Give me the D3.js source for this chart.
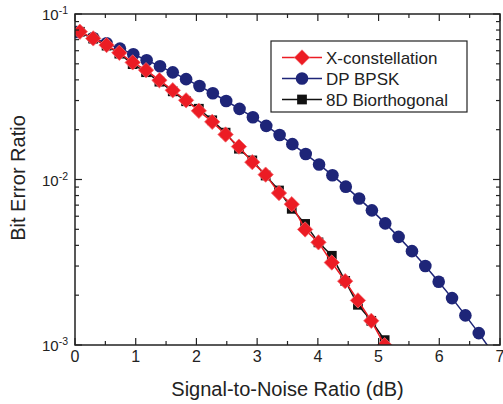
<!DOCTYPE html>
<html>
<head>
<meta charset="utf-8">
<script src="https://cdn.jsdelivr.net/npm/d3@7"></script>
<style>
  html, body { margin: 0; padding: 0; background: #fff; }
  svg { display: block; font-family: Arial, "Liberation Sans", sans-serif; }
</style>
</head>
<body>
<svg id="chart" width="503" height="404"></svg>
<script>
// Bit error ratio versus SNR for three modulation formats
const xConstSnr = [0.08, 0.30, 0.52, 0.73, 0.95, 1.17, 1.39, 1.61, 1.83, 2.04, 2.26, 2.48,
                   2.70, 2.92, 3.14, 3.36, 3.57, 3.79, 4.01, 4.23, 4.45, 4.66, 4.88, 5.10];
const xConstBer = [0.0781, 0.0712, 0.0649, 0.0583, 0.0510, 0.0458, 0.0398, 0.0346, 0.0301, 0.0260,
                   0.0223, 0.0187, 0.0158, 0.01273, 0.01070, 0.00828, 0.00709, 0.00499, 0.00417,
                   0.00315, 0.00243, 0.00186, 0.00140, 0.000997];

const bpskSnr = [0.03, 0.30, 0.52, 0.74, 0.96, 1.18, 1.40, 1.61, 1.83, 2.05, 2.27, 2.49, 2.71, 2.93,
                 3.15, 3.37, 3.58, 3.80, 4.02, 4.24, 4.46, 4.68, 4.89, 5.11, 5.33, 5.55, 5.77, 5.99,
                 6.21, 6.43, 6.65, 6.87];
const bpskBer = [0.0779, 0.0716, 0.0666, 0.0618, 0.0571, 0.0526, 0.0483, 0.0444, 0.0404, 0.0367,
                 0.0332, 0.0298, 0.0267, 0.0238, 0.0211, 0.01856, 0.01635, 0.01425, 0.01233,
                 0.01060, 0.00905, 0.00767, 0.00651, 0.00543, 0.00450, 0.00369, 0.00300, 0.00241,
                 0.00192, 0.00151, 0.00118, 0.000908];

const biorthSnr = xConstSnr;
const biorthBer = [0.0781, 0.0710, 0.0644, 0.0576, 0.0498, 0.0445, 0.0390, 0.0341, 0.0297, 0.02676,
                   0.02279, 0.01919, 0.01535, 0.01304, 0.01057, 0.00858, 0.00665, 0.00539, 0.00417,
                   0.00346, 0.00244, 0.00175, 0.00140, 0.00107];

const seriesNames = ["X-constellation", "DP BPSK", "8D Biorthogonal"];
const xTickValues = [0, 1, 2, 3, 4, 5, 6, 7];
const yTickExponents = [-1, -2, -3];

const RED = "#ec1c24", NAVY = "#1e2578", BLACK = "#111111";

const svg = d3.select("#chart");
const plotLeft = 75, plotRight = 500, plotTop = 14, plotBottom = 345;

const x = d3.scaleLinear().domain([0, 7]).range([plotLeft, plotRight]);
const y = d3.scaleLog().domain([1e-3, 1e-1]).range([plotBottom, plotTop]);

svg.append("defs").append("clipPath").attr("id", "plotClip")
  .append("rect").attr("x", plotLeft).attr("y", plotTop)
  .attr("width", plotRight - plotLeft).attr("height", plotBottom - plotTop);

const plot = svg.append("g").attr("clip-path", "url(#plotClip)");

const line = d3.line().x(d => x(d[0])).y(d => y(d[1]));
const zip = (a, b) => a.map((v, i) => [v, b[i]]);

const bpsk = zip(bpskSnr, bpskBer);
const biorth = zip(biorthSnr, biorthBer);
const xconst = zip(xConstSnr, xConstBer);

const diamond = d3.symbol().type(d3.symbolDiamond2).size(150);
const square = d3.symbol().type(d3.symbolSquare).size(95);

function drawSeries(data, color, drawMarker) {
  plot.append("path").datum(data).attr("d", line)
    .attr("fill", "none").attr("stroke", color).attr("stroke-width", 1.5);
  const g = plot.append("g");
  data.forEach(d => drawMarker(g, x(d[0]), y(d[1])));
}

const circleMarker = (g, cx, cy) => g.append("circle").attr("cx", cx).attr("cy", cy).attr("r", 6.3)
  .attr("fill", NAVY);
const squareMarker = (g, cx, cy) => g.append("path").attr("d", square)
  .attr("transform", `translate(${cx},${cy})`).attr("fill", BLACK);
const diamondMarker = (g, cx, cy) => g.append("path").attr("d", diamond)
  .attr("transform", `translate(${cx},${cy})`).attr("fill", RED)
  .attr("stroke", "#f46a6e").attr("stroke-width", 0.8);

drawSeries(bpsk, NAVY, circleMarker);
drawSeries(biorth, BLACK, squareMarker);
drawSeries(xconst, RED, diamondMarker);

// Frame
const axisColor = "#222";
svg.append("rect").attr("x", plotLeft).attr("y", plotTop)
  .attr("width", plotRight - plotLeft).attr("height", plotBottom - plotTop)
  .attr("fill", "none").attr("stroke", axisColor).attr("stroke-width", 1.5);

// X ticks (inward, bottom and top)
const xMinor = d3.range(0.5, 7, 1);
const ticks = svg.append("g").attr("stroke", axisColor).attr("stroke-width", 1.2);
xTickValues.forEach(v => {
  ticks.append("line").attr("x1", x(v)).attr("x2", x(v)).attr("y1", plotBottom).attr("y2", plotBottom - 7);
  ticks.append("line").attr("x1", x(v)).attr("x2", x(v)).attr("y1", plotTop).attr("y2", plotTop + 7);
});
xMinor.forEach(v => {
  ticks.append("line").attr("x1", x(v)).attr("x2", x(v)).attr("y1", plotBottom).attr("y2", plotBottom - 4);
  ticks.append("line").attr("x1", x(v)).attr("x2", x(v)).attr("y1", plotTop).attr("y2", plotTop + 4);
});

// Y ticks: decades plus 2..9 minors
yTickExponents.forEach(e => {
  const v = Math.pow(10, e);
  ticks.append("line").attr("x1", plotLeft).attr("x2", plotLeft + 7).attr("y1", y(v)).attr("y2", y(v));
  ticks.append("line").attr("x1", plotRight).attr("x2", plotRight - 7).attr("y1", y(v)).attr("y2", y(v));
});
[-3, -2].forEach(e => {
  for (let m = 2; m <= 9; m++) {
    const v = m * Math.pow(10, e);
    ticks.append("line").attr("x1", plotLeft).attr("x2", plotLeft + 4).attr("y1", y(v)).attr("y2", y(v));
    ticks.append("line").attr("x1", plotRight).attr("x2", plotRight - 4).attr("y1", y(v)).attr("y2", y(v));
  }
});

// Tick labels
svg.append("g").selectAll("text").data(xTickValues).join("text")
  .attr("x", d => x(d)).attr("y", 362).attr("text-anchor", "middle")
  .attr("font-size", 16).attr("fill", "#222").text(d => d);

const yl = svg.append("g").selectAll("text").data(yTickExponents).join("text")
  .attr("x", 68).attr("y", d => y(Math.pow(10, d)) + 6).attr("text-anchor", "end")
  .attr("font-size", 15).attr("fill", "#222");
yl.append("tspan").text("10");
yl.append("tspan").attr("dy", -6).attr("font-size", 10.5).text(d => "-" + Math.abs(d));

// Axis titles
svg.append("text").attr("x", 287.5).attr("y", 396).attr("text-anchor", "middle")
  .attr("font-size", 20).attr("fill", "#222").text("Signal-to-Noise Ratio (dB)");
svg.append("text").attr("transform", "translate(25,178) rotate(-90)").attr("text-anchor", "middle")
  .attr("font-size", 20).attr("fill", "#222").text("Bit Error Ratio");

// Legend
const legend = svg.append("g");
legend.append("rect").attr("x", 271).attr("y", 41).attr("width", 196).attr("height", 71)
  .attr("fill", "#fff").attr("stroke", "#222").attr("stroke-width", 1.2);
const rows = [
  { name: seriesNames[0], color: RED, marker: diamondMarker, cy: 57.5 },
  { name: seriesNames[1], color: NAVY, marker: circleMarker, cy: 78.5 },
  { name: seriesNames[2], color: BLACK, marker: squareMarker, cy: 99.5 }
];
rows.forEach(r => {
  legend.append("line").attr("x1", 282).attr("x2", 322).attr("y1", r.cy).attr("y2", r.cy)
    .attr("stroke", r.color).attr("stroke-width", 1.5);
  r.marker(legend, 302, r.cy);
  legend.append("text").attr("x", 326).attr("y", r.cy + 6).attr("font-size", 17)
    .attr("fill", "#222").text(r.name);
});
</script>
</body>
</html>
